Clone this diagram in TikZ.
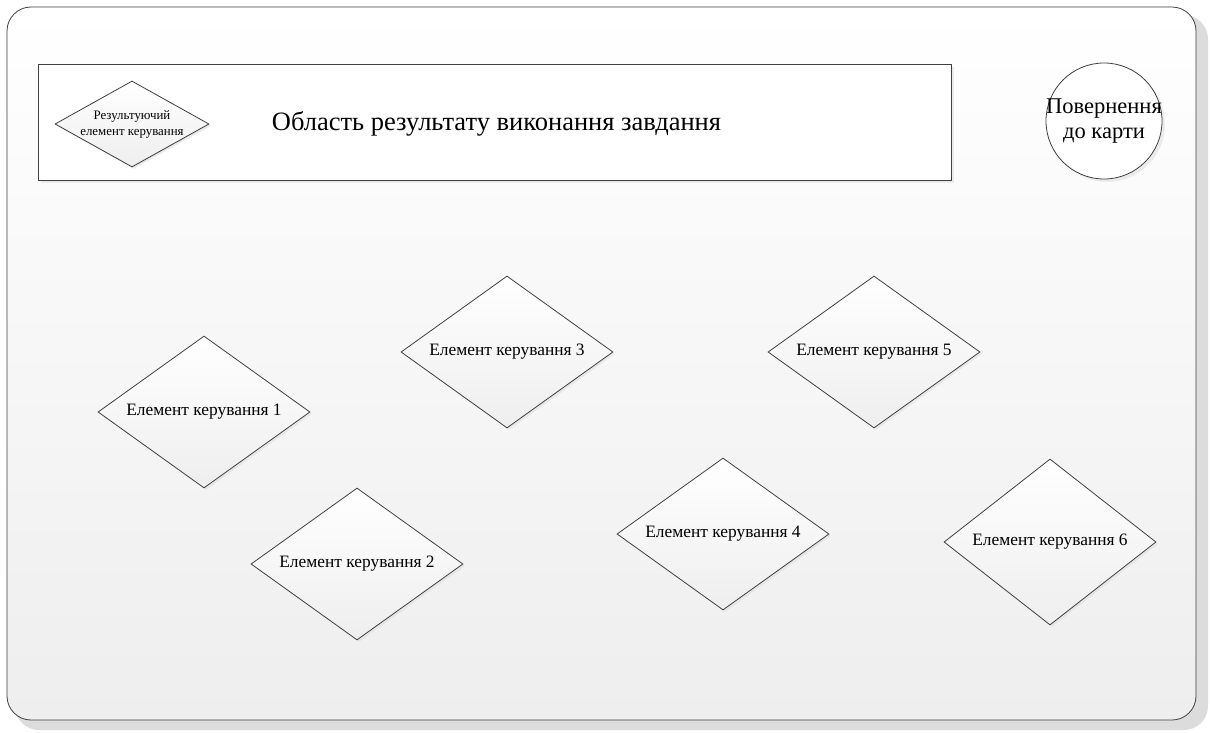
\documentclass[tikz,border=0pt]{standalone}
\usepackage{fontspec}
\setmainfont{Liberation Serif}
\usetikzlibrary{shapes.geometric, shadows, positioning}

\definecolor{edgegray}{HTML}{404040}
\definecolor{shadegray}{HTML}{EEEEEE}
\definecolor{shadowgray}{HTML}{DCDCDC}

\tikzset{
	element/.style={diamond, draw=edgegray, top color=white, bottom color=shadegray,
		shape aspect=1.4, inner sep=0pt, minimum width=212pt, minimum height=152pt,
		font=\fontsize{17.4}{20}\selectfont,
		drop shadow={shadow xshift=2pt, shadow yshift=-2pt, fill=shadowgray}},
	panel/.style={draw=edgegray, fill=white,
		drop shadow={shadow xshift=3pt, shadow yshift=-3pt, fill=shadowgray}}
}

\begin{document}
\begin{tikzpicture}[x=1pt, y=-1pt, line width=0.8pt]
	\useasboundingbox (0,0) rectangle (1212,733);
	\fill[white] (0,0) rectangle (1212,733);
	% outer frame
	\fill[shadowgray, rounded corners=24pt] (15,15) rectangle (1208,730);
	\draw[edgegray, top color=white, bottom color=shadegray, rounded corners=24pt]
		(7,7) rectangle (1196,720);

	% result area
	\node[panel, rectangle, minimum width=913pt, minimum height=116pt, inner sep=0pt]
		(area) at (494.5,122) {};
	\node[font=\fontsize{26.5}{30}\selectfont] (title) at (496.5,124)
		{Область результату виконання завдання};
	\node[element, minimum width=154pt, minimum height=86pt, shape aspect=1.8,
		inner sep=-7pt, font=\fontsize{12.9}{15}\selectfont, align=center,
		drop shadow={shadow xshift=1pt, shadow yshift=-1pt, fill=shadowgray}]
		(result) at (132,124) {Результуючий\\[1pt]елемент керування};

	% back to map
	\node[panel, circle, minimum size=116pt, inner sep=-8pt, align=center,
		font=\fontsize{22.5}{25}\selectfont] (back) at (1104,121) {Повернення\\до карти};

	% control elements
	\node[element] (e1) at (204,412) {Елемент керування 1};
	\node[element] (e2) at (357,564) {Елемент керування 2};
	\node[element] (e3) at (507,352) {Елемент керування 3};
	\node[element] (e4) at (723,534) {Елемент керування 4};
	\node[element] (e5) at (874,352) {Елемент керування 5};
	\node[element, minimum height=166pt] (e6) at (1050,542) {Елемент керування 6};
\end{tikzpicture}
\end{document}
